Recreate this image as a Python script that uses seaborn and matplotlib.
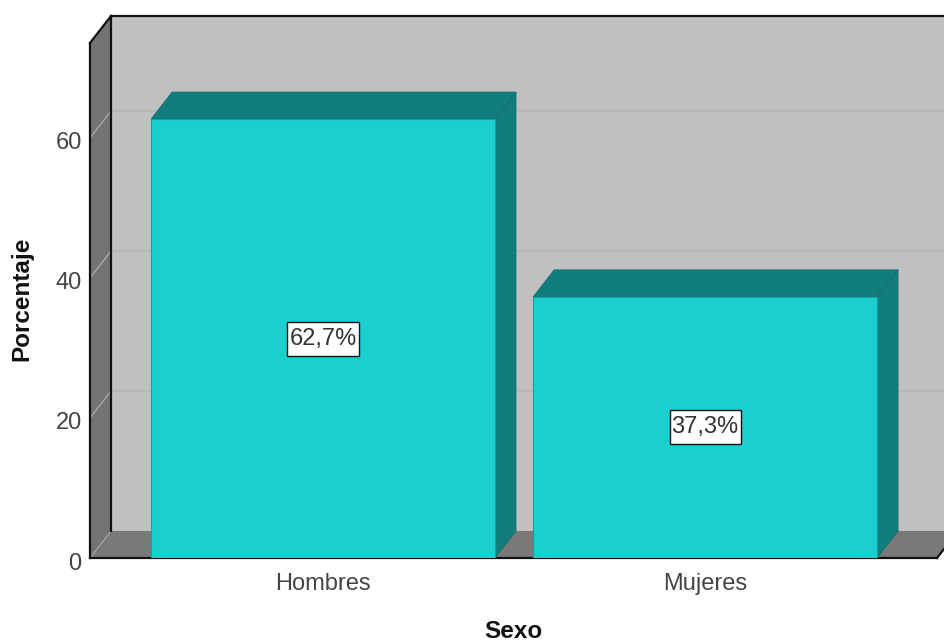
import matplotlib
matplotlib.use("Agg")
import matplotlib.pyplot as plt
import matplotlib.path as mpath
import matplotlib.transforms as mtrans
import pandas as pd
import seaborn as sns

categories = ["Hombres", "Mujeres"]
percent = [62.7, 37.3]
percent_labels = ["62,7%", "37,3%"]
y_ticks = [0, 20, 40, 60]

sns.set_style("white")
plt.rcParams['font.family'] = ['Liberation Sans', 'DejaVu Sans']

W, H = 945, 642
fig = plt.figure(figsize=(W / 100, H / 100), dpi=100)
ax = fig.add_axes([90 / W, (H - 558) / H, (937 - 90) / W, (558 - 43) / H])
ax.patch.set_visible(False)

df = pd.DataFrame({"Sexo": categories, "Porcentaje": percent})
sns.barplot(data=df, x="Sexo", y="Porcentaje", color="#1bcfcf", saturation=1,
            width=0.9, edgecolor="#14a0a0", linewidth=0.8, ax=ax, zorder=5)

xmin, xmax = -0.61, 1.607
ymin, ymax = 0, 73.57
ax.set_xlim(xmin, xmax)
ax.set_ylim(ymin, ymax)

# depth of the fake 3d box, in data units
dx = 21 / 382
dy = 27 / 7


def poly(xs, ys, color, z, edge="none", lw=0):
    ax.fill(xs, ys, facecolor=color, edgecolor=edge, linewidth=lw, zorder=z, clip_on=False)


def label_box(x0, y0, width, height, mutation_size):
    # label frame is taller than square padding gives
    px, py = 2, 6
    return mpath.Path.unit_rectangle().transformed(
        mtrans.Affine2D().scale(width + 2 * px, height + 2 * py).translate(x0 - px, y0 - py))


# back wall, left wall, floor
poly([xmin + dx, xmax + dx, xmax + dx, xmin + dx], [dy, dy, ymax + dy, ymax + dy], "#c0c0c0", 1)
poly([xmin, xmin + dx, xmin + dx, xmin], [ymin, dy, ymax + dy, ymax], "#737373", 1)
poly([xmin, xmax, xmax + dx, xmin + dx], [ymin, ymin, dy, dy], "#797979", 1)

# grid on walls
for t in y_ticks[1:]:
    ax.plot([xmin + dx, xmax + dx], [t + dy, t + dy], color="#b7b7b7", lw=1.5, zorder=2, clip_on=False)
    ax.plot([xmin, xmin + dx], [t, t + dy], color="#a6a6a6", lw=1, zorder=2, clip_on=False)
ax.plot([xmin, xmin + dx], [0, dy], color="#a6a6a6", lw=0.8, zorder=2, clip_on=False)

# box outline
line = dict(color="#111111", lw=1.6, zorder=3, clip_on=False, solid_capstyle="projecting")
ax.plot([xmin, xmin], [ymin, ymax], **line)
ax.plot([xmin, xmin + dx], [ymax, ymax + dy], **line)
ax.plot([xmin + dx, xmax + dx], [ymax + dy, ymax + dy], **line)
ax.plot([xmin + dx, xmin + dx], [dy, ymax + dy], **line)
ax.plot([xmin, xmax], [ymin, ymin], **line)
ax.plot([xmax, xmax + dx], [ymin, dy], **line)

# top and side faces of each bar
for bar in ax.containers[0]:
    x0, x1 = bar.get_x(), bar.get_x() + bar.get_width()
    v = bar.get_height()
    poly([x0, x1, x1 + dx, x0 + dx], [v, v, v + dy, v + dy], "#127d7d", 4, "#0f6e6e", 0.6)
    poly([x1, x1 + dx, x1 + dx, x1], [0, dy, v + dy, v], "#127d7d", 4, "#0f6e6e", 0.6)

ax.bar_label(ax.containers[0], labels=percent_labels, label_type="center", fontsize=17,
             color="#333333", zorder=8,
             bbox=dict(boxstyle=label_box, facecolor="white", edgecolor="#111111", linewidth=1))

sns.despine(ax=ax, left=True, bottom=True)
ax.set_yticks(y_ticks)
ax.tick_params(axis="both", length=0, labelsize=17, labelcolor="#444444")
ax.tick_params(axis="y", pad=6)
ax.tick_params(axis="x", pad=11)
down = mtrans.ScaledTranslation(0, -3 / 100, fig.dpi_scale_trans)
for lab in ax.get_yticklabels():
    lab.set_transform(lab.get_transform() + down)

ax.set_xlabel("")
ax.set_ylabel("")
fig.text(513 / W, (H - 632) / H, "Sexo", fontsize=17.5, fontweight="bold", color="#111111", ha="center", va="center")
fig.text(22 / W, (H - 299) / H, "Porcentaje", fontsize=17.5, fontweight="bold", color="#111111",
         ha="center", va="center", rotation=90)

fig.savefig("out.png", dpi=100)
